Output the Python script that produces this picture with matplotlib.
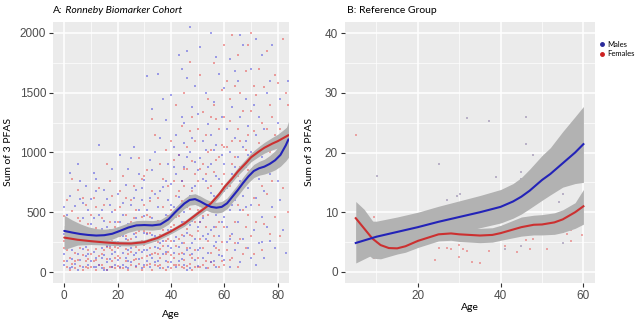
import matplotlib
matplotlib.use('Agg')
import numpy as np
import matplotlib.pyplot as plt
from matplotlib.lines import Line2D

# ---- panel A: Ronneby cohort (age, sum of 3 PFAS)
males_a = [
    (0,150),(0,320),(0,60),(1,210),(1,480),(1,90),(2,30),(2,260),(2,640),(3,180),(3,400),(3,110),(4,70),(4,550),(4,240),
    (5,330),(5,20),(5,150),(5,900),(6,280),(6,100),(6,610),(7,40),(7,190),(7,450),(8,130),(8,350),(8,720),(9,60),(9,240),
    (9,520),(2,830),(6,760),(8,210),(1,370),(3,40),(4,300),(7,580),(9,150),(0,540),
    (10,90),(10,300),(10,610),(11,170),(11,40),(11,450),(12,250),(12,120),(12,780),(13,60),(13,1060),(13,330),(14,200),
    (14,30),(14,520),(15,140),(15,270),(15,690),(16,80),(16,380),(16,20),(17,220),(17,560),(17,110),(18,40),(18,300),
    (18,860),(19,170),(19,420),(19,60),(10,400),(12,680),(14,360),(15,20),(16,610),(18,150),(19,250),(11,830),(13,480),
    (17,350),(15,430),(12,40),(16,220),(18,500),(14,120),
    (20,100),(20,350),(20,650),(21,40),(21,220),(21,980),(22,160),(22,480),(22,60),(23,280),(23,730),(23,120),(24,30),
    (24,400),(24,860),(25,200),(25,560),(25,80),(26,320),(26,1050),(26,140),(27,50),(27,450),(27,690),(28,250),(28,110),
    (28,820),(29,380),(29,30),(29,600),(20,250),(22,580),(24,180),(25,950),(26,620),(27,290),(28,520),(29,170),(23,40),
    (21,420),(25,340),(27,160),(29,700),(24,90),(22,300),
    (30,60),(30,330),(30,770),(31,180),(31,1640),(31,520),(32,40),(32,260),(32,940),(33,120),(33,1360),(33,450),(34,300),
    (34,80),(34,650),(35,200),(35,1660),(35,540),(36,30),(36,380),(36,1120),(37,150),(37,710),(37,260),(38,90),(38,480),
    (38,1270),(39,220),(39,600),(39,40),(30,470),(31,90),(32,620),(33,850),(34,210),(35,90),(36,680),(37,430),(38,170),
    (39,900),(36,240),(33,310),(30,180),(34,1000),(37,1450),(39,350),(38,760),(35,360),(32,140),(31,320),
    (40,80),(40,350),(40,740),(40,1480),(41,160),(41,540),(41,1050),(42,40),(42,290),(42,820),(43,210),(43,1820),(43,630),
    (44,110),(44,420),(44,1700),(45,60),(45,300),(45,880),(45,1250),(46,180),(46,560),(46,1620),(47,30),(47,390),(47,1000),
    (47,2050),(48,240),(48,700),(48,1380),(49,100),(49,470),(49,920),(49,1560),(40,560),(41,260),(42,1150),(43,90),(44,760),
    (45,500),(46,330),(46,960),(47,640),(48,150),(48,1120),(49,280),(42,520),(43,380),(44,240),(45,1080),(46,20),(47,200),
    (49,720),(41,880),(40,200),(44,1300),(46,1850),(48,430),(45,150),(43,980),
    (50,50),(50,380),(50,850),(50,1320),(51,200),(51,600),(51,1880),(52,120),(52,450),(52,1100),(53,30),(53,280),(53,760),
    (53,1500),(54,160),(54,540),(54,1240),(55,80),(55,350),(55,900),(55,2000),(56,220),(56,640),(56,1420),(57,40),(57,480),
    (57,1060),(58,300),(58,780),(58,1660),(59,130),(59,420),(59,980),(50,620),(51,420),(52,780),(53,1020),(54,320),(55,660),
    (56,90),(56,1020),(57,250),(57,800),(58,520),(59,680),(59,1300),(54,880),(52,300),(50,180),(51,950),(53,560),(55,1150),
    (58,140),(57,1800),(56,380),
    (60,100),(60,460),(60,900),(60,1540),(61,250),(61,700),(61,1200),(62,40),(62,520),(62,1000),(62,1780),(63,320),(63,820),
    (63,1380),(64,180),(64,600),(64,1120),(65,420),(65,960),(65,1600),(66,80),(66,760),(66,1300),(67,280),(67,1050),
    (67,1900),(68,540),(68,880),(68,1450),(69,200),(69,700),(69,1220),(60,680),(61,380),(63,560),(64,1680),(65,240),
    (66,520),(67,640),(68,1100),(69,980),(62,280),(64,880),(66,1980),(65,700),
    (70,120),(70,560),(70,1000),(70,1700),(71,350),(71,860),(71,1400),(72,620),(72,1150),(72,1950),(73,240),(73,780),
    (73,1300),(74,460),(74,960),(74,1820),(75,120),(75,680),(75,1200),(76,380),(76,1050),(77,260),(77,820),(77,1600),
    (78,540),(78,1100),(79,200),(79,900),(80,760),(80,1250),(81,1450),(81,600),(82,350),(83,160),(83,980),(84,1600),
    (76,1500),(78,1900),(74,250),(72,60),
]
females_a = [
    (0,90),(0,260),(0,470),(1,40),(1,180),(1,600),(2,120),(2,330),(2,20),(3,220),(3,70),(3,510),(4,160),(4,380),(4,30),
    (5,100),(5,270),(5,690),(6,50),(6,200),(6,430),(7,140),(7,310),(7,20),(8,90),(8,240),(8,560),(9,30),(9,180),(9,400),
    (1,290),(3,780),(5,450),(7,620),(9,110),(2,220),(4,90),(6,330),(8,40),(0,200),
    (10,150),(10,40),(10,480),(11,260),(11,90),(11,620),(12,20),(12,190),(12,370),(13,130),(13,290),(13,700),(14,60),
    (14,240),(14,450),(15,180),(15,30),(15,560),(16,110),(16,320),(16,900),(17,40),(17,200),(17,420),(18,90),(18,260),
    (18,640),(19,30),(19,210),(19,380),(10,250),(12,540),(14,150),(16,20),(17,760),(18,180),(19,120),(11,340),(13,60),
    (15,280),(16,210),(12,100),(18,40),(14,330),(19,520),
    (20,50),(20,200),(20,420),(21,120),(21,300),(21,680),(22,30),(22,240),(22,800),(23,90),(23,190),(23,480),(24,150),
    (24,340),(24,20),(25,60),(25,280),(25,600),(26,100),(26,230),(26,720),(27,40),(27,330),(27,520),(28,180),(28,70),
    (28,950),(29,120),(29,260),(29,460),(20,130),(21,30),(22,380),(23,620),(24,270),(25,170),(26,450),(27,210),(28,340),
    (29,20),(21,540),(23,300),(25,420),(27,110),(29,780),
    (30,40),(30,230),(30,560),(31,130),(31,330),(31,850),(32,70),(32,200),(32,460),(33,20),(33,280),(33,680),(34,160),
    (34,390),(34,1150),(35,50),(35,250),(35,620),(36,120),(36,310),(36,900),(37,30),(37,220),(37,540),(38,150),(38,400),
    (38,1020),(39,80),(39,280),(39,720),(30,340),(31,60),(32,590),(33,150),(34,60),(35,430),(36,190),(37,350),(38,20),
    (39,470),(33,1280),(36,60),(30,800),(35,150),(38,260),(31,480),(34,260),(37,780),(39,170),(32,330),
    (40,30),(40,260),(40,520),(40,1100),(41,120),(41,390),(41,760),(42,60),(42,220),(42,640),(42,1400),(43,150),(43,470),
    (43,980),(44,40),(44,310),(44,590),(44,1220),(45,100),(45,240),(45,720),(45,1500),(46,50),(46,360),(46,860),(47,140),
    (47,530),(47,1180),(47,1760),(48,20),(48,300),(48,680),(48,1300),(49,180),(49,420),(49,820),(40,140),(41,60),(42,350),
    (43,280),(44,160),(45,420),(46,200),(46,1050),(47,310),(48,120),(49,40),(49,580),(43,60),(41,940),(45,860),(46,540),
    (48,930),(42,460),(44,760),(47,70),(40,380),(43,680),(49,1100),(45,30),
    (50,120),(50,340),(50,760),(50,1200),(51,40),(51,280),(51,580),(51,1650),(52,200),(52,470),(52,900),(53,90),(53,380),
    (53,1150),(54,30),(54,260),(54,700),(54,1450),(55,160),(55,520),(55,1020),(56,60),(56,300),(56,840),(56,1750),(57,200),
    (57,600),(57,1280),(58,40),(58,420),(58,960),(59,250),(59,740),(59,1520),(50,520),(51,860),(52,60),(52,1340),(53,560),
    (54,480),(55,80),(55,1300),(56,540),(57,380),(58,180),(58,1200),(59,90),(59,1060),(53,820),(57,940),(50,40),(54,1000),
    (56,1400),(51,420),(55,720),
    (60,60),(60,380),(60,820),(60,1300),(60,1900),(61,180),(61,560),(61,1050),(62,300),(62,720),(62,1450),(63,120),(63,640),
    (63,1100),(63,1980),(64,420),(64,960),(64,1560),(65,40),(65,560),(65,1200),(65,1820),(66,280),(66,880),(66,1500),
    (67,150),(67,720),(67,1350),(68,380),(68,1020),(68,1680),(69,480),(69,1150),(69,1900),(61,1600),(62,100),(64,240),
    (66,1100),(67,520),(68,200),(69,850),(60,1050),(63,900),(65,800),(62,1260),
    (70,300),(70,840),(70,1350),(70,2000),(71,150),(71,620),(71,1180),(71,1560),(72,420),(72,960),(72,1480),(73,560),
    (73,1080),(73,1700),(74,180),(74,720),(74,1250),(75,400),(75,900),(75,1550),(76,650),(76,1200),(76,1850),(77,320),
    (77,1000),(77,1400),(78,760),(78,1300),(79,460),(79,1150),(79,1650),(80,900),(80,1580),(81,300),(81,1200),(82,700),
    (82,1950),(83,1500),(84,1400),(84,500),
]

# smoother readings, panel A
male_fit_age_a = [0, 3, 6, 9, 12, 15, 18, 21, 24, 27, 30, 33, 36, 39, 42, 45, 47, 49, 51, 53, 55, 57, 59, 61, 63, 65,
                  67, 69, 71, 73, 75, 77, 79, 81, 83, 84]
male_fit_a = [344, 330, 318, 310, 305, 308, 320, 345, 372, 390, 393, 390, 398, 440, 510, 573, 603, 610, 590, 565, 545,
              538, 545, 575, 630, 685, 745, 800, 845, 868, 882, 905, 935, 980, 1060, 1110]
male_se_a = [130, 105, 85, 68, 58, 50, 45, 42, 40, 40, 40, 40, 40, 40, 40, 42, 44, 45, 45, 45, 45, 45, 45, 45, 46, 48,
             50, 52, 55, 58, 62, 70, 80, 95, 130, 150]
female_fit_age_a = [0, 5, 10, 15, 20, 25, 30, 35, 40, 45, 50, 53, 55, 58, 60, 63, 65, 68, 70, 73, 75, 78, 80, 82, 84]
female_fit_a = [288, 270, 258, 248, 240, 238, 250, 285, 340, 405, 490, 540, 575, 650, 710, 785, 840, 910, 960, 1010,
                1040, 1075, 1095, 1120, 1145]
female_se_a = [100, 45, 28, 22, 20, 20, 20, 20, 20, 22, 24, 25, 25, 26, 27, 30, 32, 35, 37, 42, 45, 52, 58, 68, 80]

# ---- panel B: reference group
males_b = [(10.1,16.1),(31.8,25.7),(37.1,25.2),(46.1,26.0),(46.1,21.4),(47.9,19.6),(25.1,18.1),(38.8,15.9),(45,16.8),
           (45,15.6),(27,12.0),(29.4,12.7),(30.2,13.0),(55,13.1),(54,11.7),(41.1,3.9),(45,4.3),(55,4.8)]
females_b = [(5.1,22.9),(9.5,9.2),(9.1,3.9),(9.5,2.3),(10.4,2.6),(11.2,2.8),(24.2,2.0),(25.2,4.0),(27,4.0),(28,3.9),
             (30,4.5),(30,2.5),(31,3.9),(31.8,3.5),(33,1.7),(34.9,1.5),(37.1,3.5),(41.1,4.3),(43.9,3.4),(46.1,5.3),
             (47.1,3.9),(47.9,5.6),(49.1,6.7),(49.9,6.3),(51.9,6.3),(51.1,3.9),(55,6.7),(56,6.4),(57,7.0),(57,5.2),
             (57,7.6),(59.6,6.2)]

male_fit_age_b = [5, 10, 15, 20, 25, 30, 35, 40, 43, 45, 47, 50, 52, 55, 58, 60]
male_fit_b = [4.85, 5.9, 6.7, 7.5, 8.4, 9.2, 10.0, 10.9, 11.8, 12.6, 13.6, 15.4, 16.4, 18.2, 20.0, 21.4]
male_lo_b = [1.5, 3.2, 4.3, 5.0, 5.8, 6.6, 7.4, 8.2, 9.0, 9.7, 10.6, 12.0, 12.9, 14.2, 14.8, 15.0]
male_hi_b = [8.5, 8.5, 9.2, 10.0, 11.0, 11.9, 12.8, 13.8, 14.8, 15.8, 17.2, 19.5, 20.8, 23.5, 26.0, 27.7]
female_fit_age_b = [5, 7, 9, 11, 13, 15, 17, 20, 25, 28, 30, 35, 38, 40, 45, 48, 50, 53, 55, 58, 60]
female_fit_b = [9.0, 7.3, 5.6, 4.5, 4.0, 3.95, 4.3, 5.2, 6.3, 6.45, 6.3, 6.1, 6.2, 6.5, 7.5, 7.9, 7.95, 8.3, 8.8, 10.0, 11.0]
female_lo_b = [5.5, 3.5, 2.3, 2.2, 2.6, 3.0, 3.3, 4.1, 5.2, 5.3, 5.1, 4.9, 5.0, 5.3, 6.0, 6.2, 6.2, 6.3, 6.6, 7.3, 8.0]
female_hi_b = [11.8, 10.5, 8.6, 6.8, 5.4, 5.0, 5.3, 6.3, 7.4, 7.6, 7.5, 7.3, 7.4, 7.8, 9.2, 9.5, 9.6, 9.9, 10.4, 11.6, 13.8]

BLUE = '#2323b8'
RED = '#cc3030'
PT_BLUE = '#4a4ae0'
PT_RED = '#e84a4a'
RIBBON = '#b2b2b2'
PANEL = '#ebebeb'

plt.rcParams['font.family'] = ['Lato', 'DejaVu Sans']


def style_axes(ax, xmaj, xmin, ymaj, ymin):
    ax.set_facecolor(PANEL)
    for s in ax.spines.values():
        s.set_visible(False)
    ax.set_xticks(xmaj)
    ax.set_xticks(xmin, minor=True)
    ax.set_yticks(ymaj)
    ax.set_yticks(ymin, minor=True)
    ax.grid(which='major', color='white', lw=1.1, zorder=0)
    ax.grid(which='minor', color='white', lw=0.5, zorder=0)
    ax.set_axisbelow(True)
    ax.tick_params(which='major', length=3, width=0.8, color='#333333', labelcolor='#4d4d4d',
                   labelsize=8.5, pad=2)
    ax.tick_params(which='minor', length=0)
    for lab in ax.get_xticklabels() + ax.get_yticklabels():
        lab.set_family(['Liberation Sans', 'DejaVu Sans'])


fig = plt.figure(figsize=(6.4, 3.24), dpi=100)
fig.patch.set_facecolor('white')

# ---------------- panel A
ax = fig.add_axes([53 / 640, 41 / 324, 236 / 640, 261 / 324])
style_axes(ax, [0, 20, 40, 60, 80], [10, 30, 50, 70], [0, 500, 1000, 1500, 2000], [250, 750, 1250, 1750])
ma = np.array(males_a, dtype=float)
fa = np.array(females_a, dtype=float)
ax.scatter(fa[:, 0], fa[:, 1], s=4, marker='s', color=PT_RED, alpha=0.5, linewidths=0, zorder=2)
ax.scatter(ma[:, 0], ma[:, 1], s=4, marker='s', color=PT_BLUE, alpha=0.5, linewidths=0, zorder=2)

xa = np.array(male_fit_age_a)
ya = np.array(male_fit_a)
sa = np.array(male_se_a)
ax.fill_between(xa, ya - sa, ya + sa, color=RIBBON, lw=0, zorder=3)
xf = np.array(female_fit_age_a)
yf = np.array(female_fit_a)
sf = np.array(female_se_a)
ax.fill_between(xf, yf - sf, yf + sf, color=RIBBON, lw=0, zorder=3)
ax.plot(xf, yf, color=RED, lw=1.5, zorder=4, solid_capstyle='round')
ax.plot(xa, ya, color=BLUE, lw=1.5, zorder=5, solid_capstyle='round')

ax.set_xlim(-4.2, 84.2)
ax.set_ylim(-92, 2092)
ax.set_xlabel('Age', fontsize=7.5, labelpad=6)
ax.set_ylabel('Sum of 3 PFAS', fontsize=7.5, labelpad=5)
ta = fig.text(53 / 640, 1 - 13 / 324, 'A:', fontsize=7.5, ha='left', va='baseline')
ax.annotate(' Ronneby Biomarker Cohort', xy=(1, 0), xycoords=ta, fontsize=7.5, style='italic',
            ha='left', va='bottom', annotation_clip=False)

# ---------------- panel B
bx = fig.add_axes([345 / 640, 41 / 324, 250 / 640, 261 / 324])
style_axes(bx, [20, 40, 60], [10, 30, 50], [0, 10, 20, 30, 40], [5, 15, 25, 35])
mb = np.array(males_b)
fb = np.array(females_b)
bx.scatter(fb[:, 0], fb[:, 1], s=3, marker='s', color=PT_RED, alpha=0.45, linewidths=0, zorder=2)
bx.scatter(mb[:, 0], mb[:, 1], s=3, marker='s', color='#7a6a9a', alpha=0.45, linewidths=0, zorder=2)

bx.fill_between(male_fit_age_b, male_lo_b, male_hi_b, color=RIBBON, lw=0, zorder=3)
bx.fill_between(female_fit_age_b, female_lo_b, female_hi_b, color=RIBBON, lw=0, zorder=3)
bx.plot(female_fit_age_b, female_fit_b, color=RED, lw=1.5, zorder=4)
bx.plot(male_fit_age_b, male_fit_b, color=BLUE, lw=1.5, zorder=5)

bx.set_xlim(2.4, 62.8)
bx.set_ylim(-1.85, 41.85)
bx.set_xlabel('Age', fontsize=7.5, labelpad=1)
bx.set_ylabel('Sum of 3 PFAS', fontsize=7.5, labelpad=8)
fig.text(347 / 640, 1 - 13 / 324, 'B: Reference Group', fontsize=7.5, ha='left', va='baseline')

handles = [Line2D([], [], marker='o', ls='', color='#2a2a9a', markersize=2.5),
           Line2D([], [], marker='o', ls='', color='#cc2020', markersize=2.5)]
fig.legend(handles, ['Males', 'Females'], loc='upper left', bbox_to_anchor=(594 / 640, 1 - 37 / 324),
           frameon=False, fontsize=5.5, handletextpad=0.1, labelspacing=0.35, borderpad=0, handlelength=1.2)

fig.savefig('out.png', dpi=100)
